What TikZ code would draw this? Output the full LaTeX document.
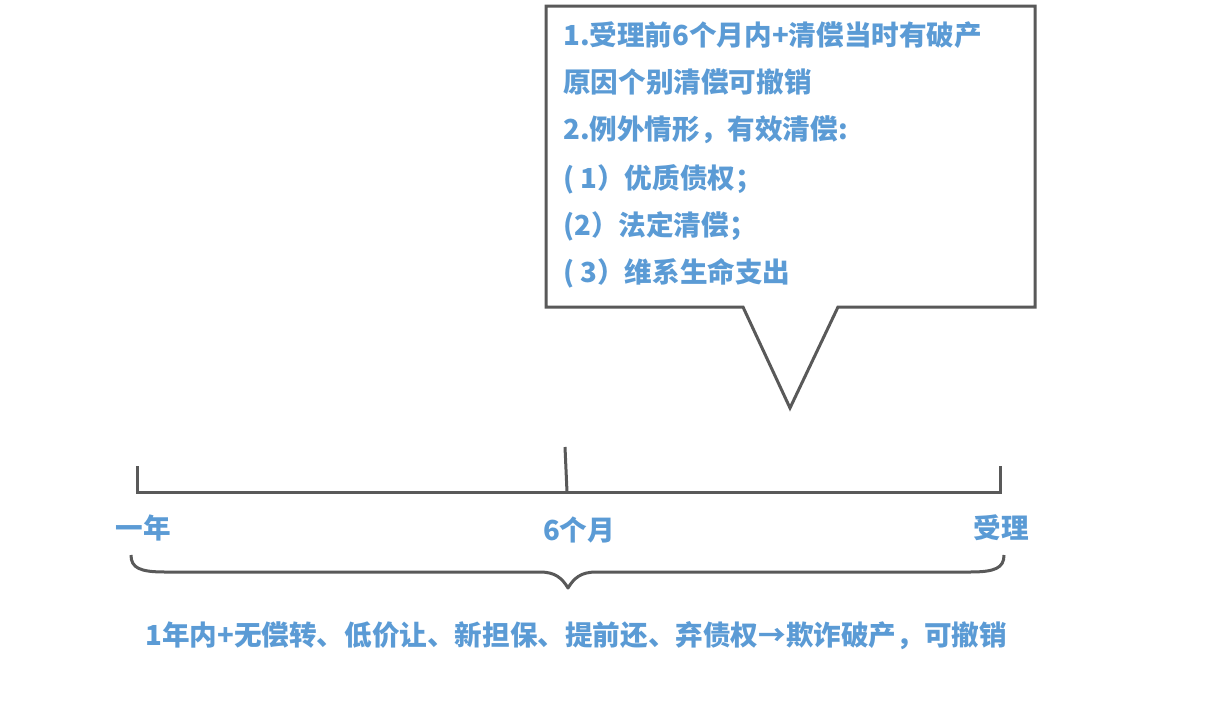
\documentclass[tikz,border=0pt]{standalone}
\usepackage{fontspec}
\setmainfont{Noto Sans CJK SC}
\definecolor{txtblue}{HTML}{5B9BD5}
\definecolor{linegray}{HTML}{595959}
\tikzset{
  lbl/.style={text=txtblue, font=\fontsize{27.6}{32}\selectfont\bfseries, inner sep=0pt},
  boxline/.style={draw=linegray, line width=3pt, line join=miter},
  tl/.style={draw=linegray, line width=3pt}
}
\begin{document}
\begin{tikzpicture}[x=1pt,y=-1pt]
\useasboundingbox[fill=white] (0,0) rectangle (1226,718);
% callout
\draw[boxline, fill=white] (546,6) -- (1035,6) -- (1035,307) -- (838,307) -- (790,408) -- (743,307) -- (546,307) -- cycle;
\node[lbl, anchor=base west] (l1) at (563,45) {1.受理前6个月内+清偿当时有破产};
\node[lbl, anchor=base west] (l2) at (563,92) {原因个别清偿可撤销};
\node[lbl, anchor=base west] (l3) at (563,139) {2.例外情形，有效清偿:};
\node[lbl, anchor=base west] (l4) at (563,188) {( 1）优质债权；};
\node[lbl, anchor=base west] (l5) at (563,235) {(2）法定清偿；};
\node[lbl, anchor=base west] (l6) at (563,282) {( 3）维系生命支出};
% timeline
\coordinate (a0) at (137,466);
\coordinate (a1) at (137,492);
\coordinate (m0) at (565,447);
\coordinate (m1) at (567,492);
\coordinate (b0) at (1000,466);
\coordinate (b1) at (1000,492);
\draw[tl] (a0) -- (a1) -- (b1) -- (b0);
\draw[tl] (m0) -- (m1);
\node[lbl] (y1) at (143,528) {一年};
\node[lbl] (m6) at (579,530) {6个月};
\node[lbl] (sl) at (1001,528) {受理};
% brace
\coordinate (bl) at (131,555);
\coordinate (br) at (1004,555);
\coordinate (bt) at (568,588);
\draw[tl, line join=round] (bl) .. controls (131,568) and (140,572) .. (165,572)
  -- (540,572) .. controls (555,572) and (562,578) .. (bt)
  .. controls (574,578) and (581,572) .. (596,572)
  -- (970,572) .. controls (995,572) and (1004,568) .. (br);
\node[lbl] (bot) at (576,636) {1年内+无偿转、低价让、新担保、提前还、弃债权→欺诈破产，可撤销};
\end{tikzpicture}
\end{document}
